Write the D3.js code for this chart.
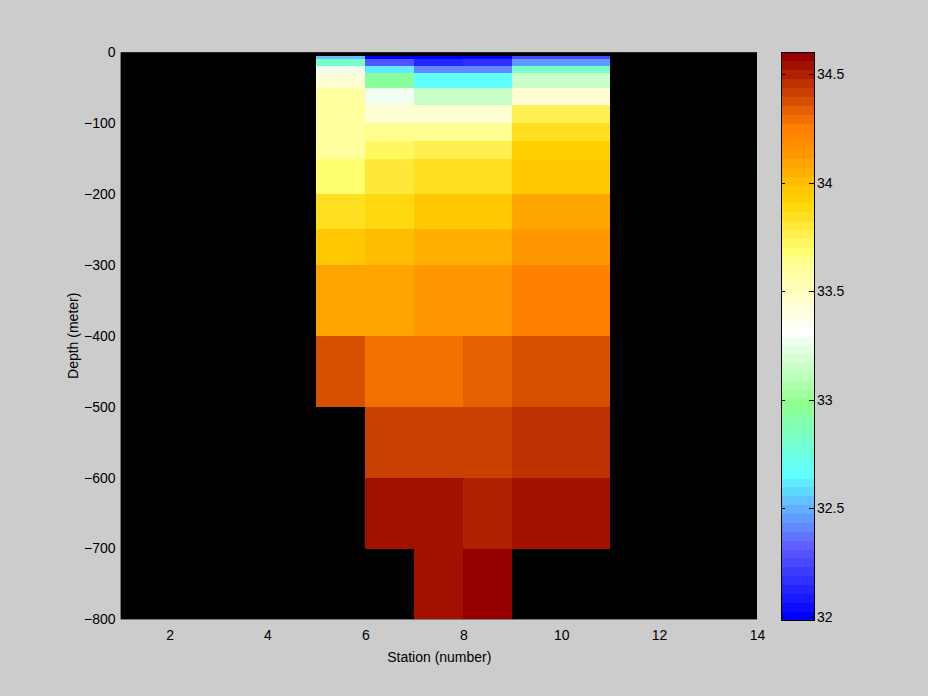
<!DOCTYPE html>
<html>
<head>
<meta charset="utf-8">
<script src="https://cdn.jsdelivr.net/npm/d3@7"></script>
<style>
  html, body { margin: 0; padding: 0; background: #cccccc; }
  svg { display: block; }
  text { font-family: "Liberation Sans", Arial, Helvetica, sans-serif; fill: #000; }
</style>
</head>
<body>
<svg id="chart" width="928" height="696"></svg>
<script>
// ---------------- data ----------------
// station cell edges (pcolor grid along x)
const stationEdges = [5, 6, 7, 8, 9, 11];
// depth cell edges in meters (pcolor grid along y)
const depthEdges = [-5, -10, -20, -30, -50, -75, -100, -125, -150, -200, -250, -300, -400, -500, -600, -700, -800];
// salinity per station column, top to bottom (null = no data)
const salinityCol1 = [32.537, 32.823, 33.273, 33.437, 33.601, 33.601, 33.601, 33.601, 33.683, 33.846, 33.969, 34.092, 34.378, null, null, null];
const salinityCol2 = [31.984, 32.291, 32.618, 32.946, 33.273, 33.437, 33.642, 33.724, 33.806, 33.887, 34.010, 34.092, 34.297, 34.419, 34.542, null];
const salinityCol3 = [32.004, 32.127, 32.414, 32.659, 33.150, 33.437, 33.642, 33.765, 33.846, 33.969, 34.051, 34.133, 34.297, 34.419, 34.542, 34.542];
const salinityCol4 = [32.004, 32.168, 32.414, 32.659, 33.150, 33.437, 33.642, 33.765, 33.846, 33.969, 34.051, 34.133, 34.337, 34.419, 34.501, 34.603];
const salinityCol5 = [32.250, 32.455, 32.823, 33.150, 33.437, 33.765, 33.846, 33.928, 33.969, 34.092, 34.133, 34.256, 34.378, 34.460, 34.542, null];
const columns = [salinityCol1, salinityCol2, salinityCol3, salinityCol4, salinityCol5];

const xTicks = [2, 4, 6, 8, 10, 12, 14];
const yTicks = [0, -100, -200, -300, -400, -500, -600, -700, -800];
const cbTicks = [32, 32.5, 33, 33.5, 34, 34.5];
const xLabel = "Station (number)";
const yLabel = "Depth (meter)";

// ---------------- layout ----------------
const svg = d3.select("#chart");
const plot = { left: 120.6, right: 757, top: 52.2, bottom: 619.4 };
const cb = { left: 781, right: 814, top: 52, bottom: 620 };

const x = d3.scaleLinear().domain([1, 14]).range([plot.left, plot.right]);
const y = d3.scaleLinear().domain([-800, 0]).range([plot.bottom, plot.top]);

// colormap: 64 discrete levels
const anchorLevels = [0, 8, 16, 24, 32, 40, 41, 43, 45, 47, 48, 50, 51, 52, 55, 63];
const anchorColors = ["#0000ff", "#6060ff", "#60ffff", "#90ff90", "#ffffff", "#ffff90", "#ffff70", "#fff050",
                      "#ffe020", "#ffd000", "#ffc800", "#ffb000", "#ffa500", "#ff9800", "#ff8000", "#950000"];
const cmapInterp = d3.scaleLinear().domain(anchorLevels).range(anchorColors).interpolate(d3.interpolateRgb);
const colormap = d3.range(64).map(i => d3.color(cmapInterp(i)).formatHex());

const allVals = columns.flat().filter(v => v != null);
const cExtent = d3.extent(allVals);
const color = d3.scaleQuantize().domain(cExtent).range(colormap);

// ---------------- axes background ----------------
svg.append("rect")
  .attr("x", plot.left).attr("y", plot.top)
  .attr("width", plot.right - plot.left).attr("height", plot.bottom - plot.top)
  .attr("fill", "#000");

// ---------------- cells ----------------
const cells = [];
columns.forEach((col, ci) => {
  col.forEach((v, ri) => {
    if (v == null) return;
    cells.push({ x0: stationEdges[ci], x1: stationEdges[ci + 1], y0: depthEdges[ri], y1: depthEdges[ri + 1], v });
  });
});
svg.append("g").selectAll("rect").data(cells).join("rect")
  .attr("x", d => x(d.x0))
  .attr("y", d => y(d.y0))
  .attr("width", d => x(d.x1) - x(d.x0))
  .attr("height", d => y(d.y1) - y(d.y0))
  .attr("fill", d => color(d.v))
  .attr("shape-rendering", "crispEdges");

// ---------------- axes ----------------
const xAxis = svg.append("g")
  .attr("transform", `translate(0,${plot.bottom})`)
  .call(d3.axisBottom(x).tickValues(xTicks).tickSize(0).tickPadding(11).tickFormat(d3.format("d")));
const yAxis = svg.append("g")
  .attr("transform", `translate(${plot.left},0)`)
  .call(d3.axisLeft(y).tickValues(yTicks).tickSize(0).tickPadding(5).tickFormat(d3.format("d")));
[xAxis, yAxis].forEach(g => {
  g.select(".domain").remove();
  g.selectAll("text").style("font-size", "14px").style("font-family", "Liberation Sans, Arial, sans-serif").attr("fill", "#000");
});

svg.append("text")
  .attr("x", (plot.left + plot.right) / 2 + 0.5).attr("y", 662)
  .attr("text-anchor", "middle").style("font-size", "14px")
  .text(xLabel);
svg.append("text")
  .attr("transform", `translate(78,${(plot.top + plot.bottom) / 2}) rotate(-90)`)
  .attr("text-anchor", "middle").style("font-size", "14px")
  .text(yLabel);

// ---------------- colorbar ----------------
const cbScale = d3.scaleLinear().domain(cExtent).range([cb.bottom, cb.top]);
const lvl = (cExtent[1] - cExtent[0]) / 64;
svg.append("g").selectAll("rect").data(colormap).join("rect")
  .attr("x", cb.left)
  .attr("y", (c, i) => cbScale(cExtent[0] + (i + 1) * lvl))
  .attr("width", cb.right - cb.left)
  .attr("height", (c, i) => cbScale(cExtent[0] + i * lvl) - cbScale(cExtent[0] + (i + 1) * lvl) + 0.5)
  .attr("fill", c => c)
  .attr("shape-rendering", "crispEdges");

const cbAxis = svg.append("g")
  .attr("transform", `translate(${cb.right},0)`)
  .call(d3.axisRight(cbScale).tickValues(cbTicks).tickSize(0).tickPadding(3).tickFormat(d => d));
cbAxis.select(".domain").remove();
cbAxis.selectAll("text").style("font-size", "14px").style("font-family", "Liberation Sans, Arial, sans-serif").attr("fill", "#000");

// colorbar inner tick marks
const tm = svg.append("g").attr("stroke", "#000").attr("stroke-width", 1).attr("shape-rendering", "crispEdges");
cbTicks.forEach(t => {
  const ty = Math.round(cbScale(t)) + 0.5;
  tm.append("line").attr("x1", cb.left).attr("x2", cb.left + 4).attr("y1", ty).attr("y2", ty);
  tm.append("line").attr("x1", cb.right - 5).attr("x2", cb.right).attr("y1", ty).attr("y2", ty);
});
svg.append("rect")
  .attr("x", cb.left + 0.5).attr("y", cb.top + 0.5)
  .attr("width", cb.right - cb.left).attr("height", cb.bottom - cb.top)
  .attr("fill", "none").attr("stroke", "#000").attr("stroke-width", 1);
</script>
</body>
</html>
